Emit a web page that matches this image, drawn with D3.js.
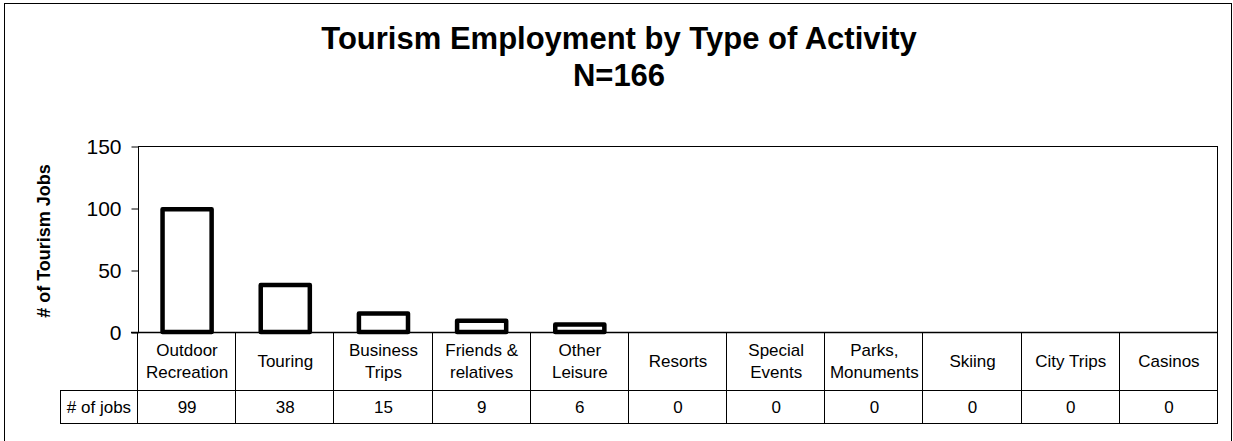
<!DOCTYPE html>
<html><head><meta charset="utf-8">
<script src="https://cdn.jsdelivr.net/npm/d3@7"></script>
<style>body{margin:0;background:#fff}svg{display:block;font-family:"Liberation Sans",Arial,sans-serif}</style>
</head><body><svg id="c" width="1233" height="441"></svg>
<script>
const categories = [["Outdoor","Recreation"],["Touring"],["Business","Trips"],["Friends &","relatives"],["Other","Leisure"],["Resorts"],["Special","Events"],["Parks,","Monuments"],["Skiing"],["City Trips"],["Casinos"]];
const values = [99,38,15,9,6,0,0,0,0,0,0];
const yTicks = [0,50,100,150];
const seriesName = "# of jobs";
const title1 = "Tourism Employment by Type of Activity";
const title2 = "N=166";
const yTitle = "# of Tourism Jobs";

const svg = d3.select("#c");
const L=138, R=1218, T=146, B=332;
const idx = categories.map((d,i)=>i);
const x = d3.scaleBand().domain(idx).range([L,R]).paddingInner(0.5).paddingOuter(0.25);
const xc = d3.scaleBand().domain(idx).range([L,R]);
const y = d3.scaleLinear().domain([0,150]).range([B,T]);

// outer frame
svg.append("rect").attr("x",4.5).attr("y",3.5).attr("width",1227).attr("height",450).attr("fill","none").attr("stroke","#000").attr("stroke-width",1);

// titles
svg.append("text").attr("x",619).attr("y",49).attr("text-anchor","middle").attr("font-weight","bold").attr("font-size",31).text(title1);
svg.append("text").attr("x",619).attr("y",86).attr("text-anchor","middle").attr("font-weight","bold").attr("font-size",31).text(title2);

// plot area
svg.append("rect").attr("x",L+0.5).attr("y",T+0.5).attr("width",R-L-1).attr("height",B-T).attr("fill","none").attr("stroke","#000");

// y axis
const ya = d3.axisLeft(y).tickValues(yTicks).tickSize(7).tickPadding(10).tickFormat(d3.format("d"));
const g = svg.append("g").attr("transform",`translate(${L+0.5},0.5)`).call(ya);
g.select(".domain").remove();
g.selectAll("text").attr("font-size",21).attr("font-family","Liberation Sans, Arial, sans-serif").attr("fill","#000");
g.selectAll("line").attr("stroke","#000");

svg.append("text").attr("transform","translate(50,241) rotate(-90)").attr("text-anchor","middle").attr("font-weight","bold").attr("font-size",18).text(yTitle);

// bars
svg.append("g").selectAll("rect").data(values).join("rect")
 .attr("x",(d,i)=>x(i)).attr("width",x.bandwidth())
 .attr("y",d=>y(d)).attr("height",d=>y(0)-y(d))
 .attr("fill","#fff").attr("stroke","#000").attr("stroke-width",4.5).attr("stroke-linejoin","round")
 .style("display",d=>d>0?null:"none");

// baseline
svg.append("line").attr("x1",L-7).attr("x2",R).attr("y1",B+0.5).attr("y2",B+0.5).attr("stroke","#000").attr("stroke-width",1.5);

// data table
const r1=B, r2=390, r3=423, tl=60;
const tg = svg.append("g").attr("stroke","#000").attr("stroke-width",1);
tg.append("line").attr("x1",tl).attr("x2",R).attr("y1",r2+0.5).attr("y2",r2+0.5);
tg.append("line").attr("x1",tl).attr("x2",R).attr("y1",r3+0.5).attr("y2",r3+0.5);
tg.append("line").attr("x1",tl+0.5).attr("x2",tl+0.5).attr("y1",r2).attr("y2",r3);
idx.concat([idx.length]).forEach(i=>{
  const xx = i<idx.length ? xc(i) : R;
  tg.append("line").attr("x1",Math.round(xx)-0.5).attr("x2",Math.round(xx)-0.5).attr("y1",r1).attr("y2",r3);
});
categories.forEach((c,i)=>{
  const cx = xc(i)+xc.bandwidth()/2;
  const t = svg.append("text").attr("text-anchor","middle").attr("font-size",17);
  const mid=(r1+r2)/2;
  c.forEach((line,j)=>{
    t.append("tspan").attr("x",cx).attr("y",mid+6+(j-(c.length-1)/2)*22).text(line);
  });
  svg.append("text").attr("x",cx).attr("y",(r2+r3)/2+6).attr("text-anchor","middle").attr("font-size",17).text(values[i]);
});
svg.append("text").attr("x",(tl+L)/2).attr("y",(r2+r3)/2+6).attr("text-anchor","middle").attr("font-size",17).text(seriesName);
</script></body></html>
